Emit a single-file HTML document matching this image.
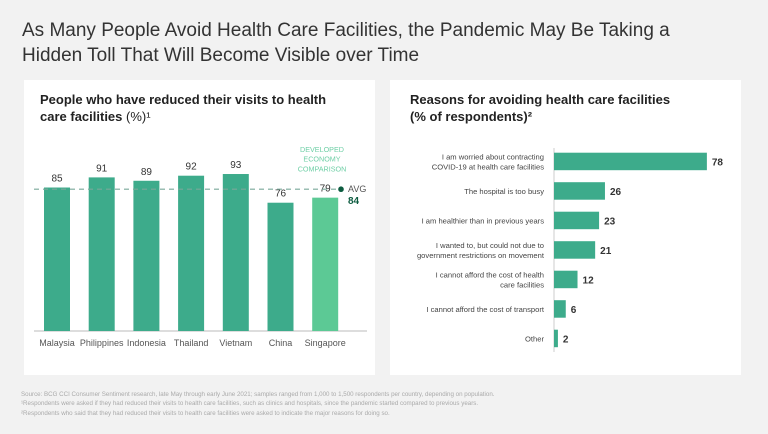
<!DOCTYPE html>
<html><head><meta charset="utf-8"><style>
body{margin:0;width:768px;height:434px;background:#f2f2f2;font-family:"Liberation Sans",sans-serif;position:relative;overflow:hidden}
.t{position:absolute;white-space:nowrap}
</style></head><body>
<div class="t" style="left:22px;top:18px;font-size:19px;line-height:25px;color:#333">As Many People Avoid Health Care Facilities, the Pandemic May Be Taking a<br>Hidden Toll That Will Become Visible over Time</div>
<div style="position:absolute;left:24px;top:80px;width:351px;height:295px;background:#fff"></div>
<div style="position:absolute;left:390px;top:80px;width:351px;height:295px;background:#fff"></div>
<div class="t" style="left:40px;top:92px;font-size:13px;line-height:16.5px;font-weight:bold;color:#222">People who have reduced their visits to health<br>care facilities <span style="font-weight:normal">(%)¹</span></div>
<div class="t" style="left:410px;top:92px;font-size:13px;line-height:16.5px;font-weight:bold;color:#222">Reasons for avoiding health care facilities<br>(% of respondents)²</div>
<svg id="c" width="768" height="434" style="position:absolute;left:0;top:0"></svg>
<div class="t" style="left:21px;top:390px;font-size:6.2px;line-height:9.3px;color:#aaa">Source: BCG CCI Consumer Sentiment research, late May through early June 2021; samples ranged from 1,000 to 1,500 respondents per country, depending on population.<br>¹Respondents were asked if they had reduced their visits to health care facilities, such as clinics and hospitals, since the pandemic started compared to previous years.<br>²Respondents who said that they had reduced their visits to health care facilities were asked to indicate the major reasons for doing so.</div>
<script>
const countries=["Malaysia","Philippines","Indonesia","Thailand","Vietnam","China","Singapore"];
const visits=[85,91,89,92,93,76,79];
const avgValue=84;
const reasons=[["I am worried about contracting","COVID-19 at health care facilities"],["The hospital is too busy"],["I am healthier than in previous years"],["I wanted to, but could not due to","government restrictions on movement"],["I cannot afford the cost of health","care facilities"],["I cannot afford the cost of transport"],["Other"]];
const reasonValues=[78,26,23,21,12,6,2];
const NS="http://www.w3.org/2000/svg",svg=document.getElementById('c');
function mk(t,a,txt){const e=document.createElementNS(NS,t);for(const k in a)e.setAttribute(k,a[k]);if(txt!=null)e.textContent=txt;svg.appendChild(e);return e;}
const base=331,ppu=1.688,x0=57,step=44.7,bw=26;
const y=v=>base-v*ppu, xc=i=>x0+i*step;
let ax=mk('line',{x1:34,x2:367,y1:base,y2:base,stroke:'#bbb','stroke-width':1});

visits.forEach((v,i)=>{
 const r=mk('rect',{x:xc(i)-bw/2,y:y(v),width:bw,height:v*ppu,fill:i==6?'#5cc995':'#3dab8b'});
 
 const l=mk('text',{x:xc(i),y:y(v)-6,'text-anchor':'middle','font-size':10,fill:'#333'},v);
 
 const c=mk('text',{x:xc(i),y:346,'text-anchor':'middle','font-size':9,fill:'#555'},countries[i]);
 
});
const ay=y(avgValue);
let al=mk('line',{x1:34,x2:337,y1:ay,y2:ay,stroke:'#7aa89a','stroke-width':1.2,'stroke-dasharray':'5,4'});

let ad=mk('circle',{cx:341,cy:ay,r:2.8,fill:'#0d5c40'});

let at=mk('text',{x:348,y:ay+3,'font-size':9,fill:'#555'},'AVG');

let av=mk('text',{x:348,y:ay+15,'font-size':10,'font-weight':'bold',fill:'#0d5c40'},avgValue);

["DEVELOPED","ECONOMY","COMPARISON"].forEach((s,k)=>{const e=mk('text',{x:322,y:152+k*9.7,'text-anchor':'middle','font-size':7.2,fill:'#6fcfa6'},s);
 });
const axX=554,rTop=152.7,rStep=29.5,bh=17.5,hpu=1.96;
let ra=mk('line',{x1:axX,x2:axX,y1:148,y2:352,stroke:'#ccc','stroke-width':1});

reasonValues.forEach((v,i)=>{
 const yt=rTop+i*rStep,cy=yt+bh/2;
 const r=mk('rect',{x:axX,y:yt,width:v*hpu,height:bh,fill:'#3dab8b'});
 
 const t=mk('text',{x:axX+v*hpu+5,y:cy+4,'font-size':10,'font-weight':'bold',fill:'#333'},v);
 
 const lines=reasons[i];
 lines.forEach((s,k)=>{const e=mk('text',{x:544,y:cy+3-(lines.length-1)*5+k*10,'text-anchor':'end','font-size':7.6,fill:'#444'},s);
  });
});
</script>
</body></html>
